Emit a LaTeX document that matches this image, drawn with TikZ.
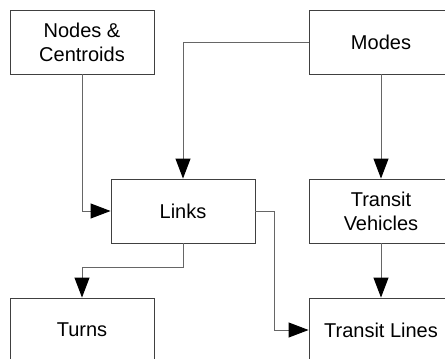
\documentclass[tikz,border=0pt]{standalone}
\usepackage{fontspec}
\setmainfont{Liberation Sans}
\usetikzlibrary{arrows.meta}
\begin{document}
\begin{tikzpicture}[x=1pt,y=-1pt,
  box/.style={draw=black!75, line width=0.9pt, minimum width=144pt, minimum height=64pt,
    inner sep=0pt, align=center, font=\fontsize{20pt}{24pt}\selectfont},
  conn/.style={draw=black!60, line width=0.9pt,
    -{Triangle[length=20pt,width=15pt,fill=black,color=black]}}]
\clip (0,0) rectangle (445,359);
\node[box] (nc) at (82,42) {Nodes \&\\Centroids};
\node[box] (modes) at (381,42) {Modes};
\node[box] (links) at (183,211) {Links};
\node[box] (tv) at (381,211) {Transit\\Vehicles};
\node[box] (turns) at (82,330) {Turns};
\node[box] (tl) at (381,330) {Transit Lines};
\coordinate (lb) at (183,267);
\coordinate (le) at (274,211);
\draw[conn] (nc.south) |- (links.west);
\draw[conn] (modes.west) -| (links.north);
\draw[conn] (modes.south) -- (tv.north);
\draw[conn] (links.south) -- (lb) -| (turns.north);
\draw[conn] (links.east) -- (le) |- (tl.west);
\draw[conn] (tv.south) -- (tl.north);
\end{tikzpicture}
\end{document}
